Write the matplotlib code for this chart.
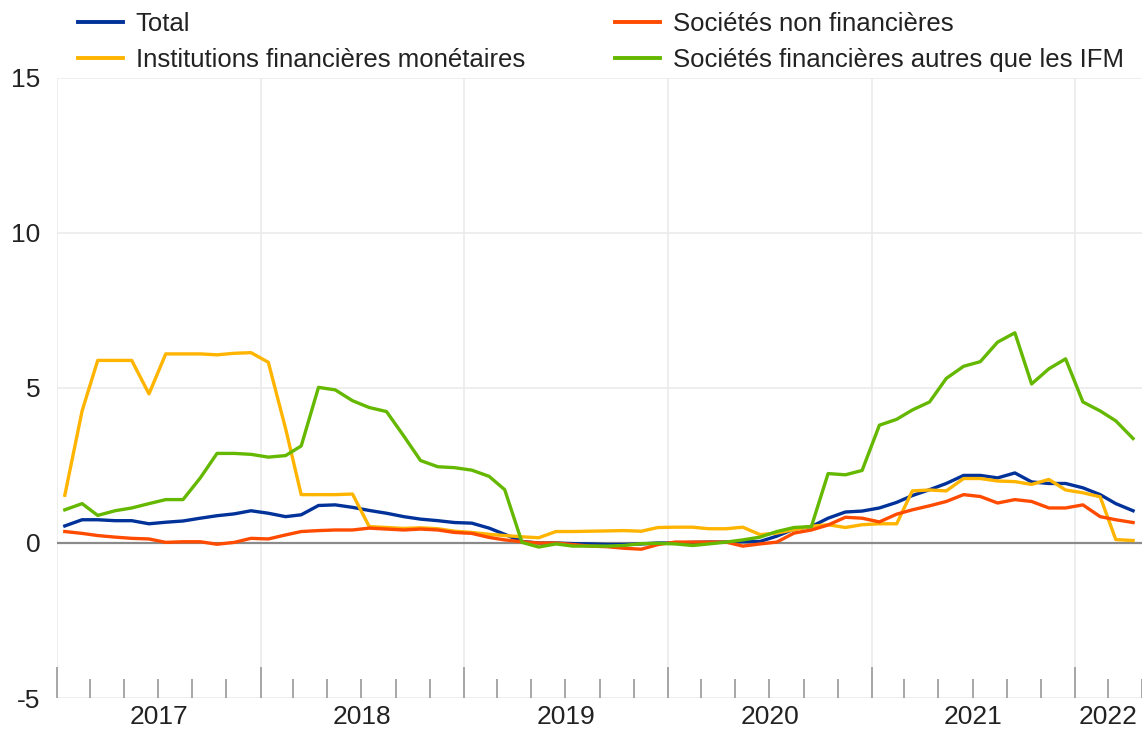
import matplotlib
matplotlib.use("Agg")
import matplotlib.pyplot as plt
import matplotlib.dates as mdates
import numpy as np
import pandas as pd

plt.rcParams['font.family'] = ['Liberation Sans', 'DejaVu Sans']

months = pd.date_range('2017-01-01', periods=64, freq='MS') + pd.Timedelta(days=14)

total = [0.55, 0.75, 0.75, 0.72, 0.72, 0.62, 0.67, 0.71, 0.80, 0.88, 0.94, 1.04,
         0.96, 0.85, 0.91, 1.21, 1.23, 1.15, 1.05, 0.96, 0.85, 0.77, 0.72, 0.66,
         0.64, 0.48, 0.28, 0.05, 0.00, 0.00, -0.02, -0.03, -0.05, -0.05, -0.03, 0.00,
         0.00, 0.02, 0.03, 0.03, 0.05, 0.05, 0.22, 0.45, 0.53, 0.80, 1.00, 1.03,
         1.13, 1.31, 1.53, 1.72, 1.92, 2.18, 2.18, 2.10, 2.26, 1.97, 1.92, 1.92,
         1.78, 1.56, 1.27, 1.04]

snf = [0.37, 0.31, 0.24, 0.19, 0.15, 0.13, 0.02, 0.04, 0.04, -0.04, 0.02, 0.15,
       0.13, 0.26, 0.37, 0.40, 0.42, 0.42, 0.48, 0.45, 0.42, 0.45, 0.42, 0.34,
       0.31, 0.18, 0.10, 0.04, 0.00, 0.00, -0.05, -0.10, -0.12, -0.17, -0.20, -0.05,
       0.03, 0.03, 0.03, 0.03, -0.10, -0.03, 0.03, 0.32, 0.42, 0.58, 0.83, 0.80,
       0.68, 0.93, 1.07, 1.20, 1.34, 1.56, 1.50, 1.29, 1.40, 1.34, 1.13, 1.13,
       1.23, 0.85, 0.75, 0.66]

ifm = [1.54, 4.26, 5.89, 5.89, 5.89, 4.81, 6.10, 6.10, 6.10, 6.07, 6.12, 6.14,
       5.83, 3.69, 1.56, 1.56, 1.56, 1.58, 0.53, 0.50, 0.47, 0.49, 0.46, 0.38,
       0.34, 0.28, 0.24, 0.20, 0.17, 0.37, 0.37, 0.38, 0.39, 0.40, 0.38, 0.50,
       0.51, 0.51, 0.46, 0.46, 0.51, 0.27, 0.32, 0.43, 0.54, 0.59, 0.50, 0.59,
       0.62, 0.62, 1.68, 1.71, 1.68, 2.08, 2.08, 2.00, 1.98, 1.89, 2.05, 1.71,
       1.62, 1.49, 0.11, 0.08]

sfaifm = [1.07, 1.27, 0.89, 1.04, 1.13, 1.27, 1.40, 1.40, 2.10, 2.89, 2.89, 2.86,
          2.77, 2.82, 3.13, 5.02, 4.94, 4.59, 4.37, 4.24, 3.45, 2.66, 2.46, 2.43,
          2.35, 2.15, 1.72, 0.02, -0.13, -0.03, -0.10, -0.10, -0.10, -0.08, -0.02, -0.01,
          -0.03, -0.08, -0.03, 0.03, 0.10, 0.19, 0.37, 0.50, 0.53, 2.24, 2.20, 2.34,
          3.80, 3.99, 4.29, 4.55, 5.31, 5.70, 5.85, 6.48, 6.78, 5.13, 5.62, 5.94,
          4.55, 4.26, 3.94, 3.37]

labels = ["Total", "Institutions financières monétaires",
          "Sociétés non financières", "Sociétés financières autres que les IFM"]
colors = ["#003299", "#FFB400", "#FF4B00", "#65B800"]
series = [total, ifm, snf, sfaifm]

fig = plt.figure(figsize=(11.42, 7.31), dpi=100)
ax = fig.add_axes([57/1142, 1 - 698/731, 1 - 57/1142, (698 - 78)/731])

ax.set_ylim(-5, 15)
ax.set_xlim(pd.Timestamp('2017-01-01'), pd.Timestamp('2022-05-01'))

# grid
for y in [-5, 5, 10, 15]:
    ax.axhline(y, color="#ebebeb", lw=1.2, zorder=0)
for yr in range(2017, 2023):
    ax.axvline(pd.Timestamp(f'{yr}-01-01'), color="#ebebeb", lw=1.2, zorder=0)
ax.axhline(0, color="#8a8a8a", lw=1.6, zorder=1)

handles = []
for s, c, lab in zip(series, colors, labels):
    h, = ax.plot(months, s, color=c, lw=2.4, label=lab, zorder=3)
    handles.append(h)

for s in ax.spines.values():
    s.set_visible(False)

ax.set_yticks([-5, 0, 5, 10, 15])
ax.set_yticklabels(["-5", "0", "5", "10", "15"])
ax.tick_params(axis='y', length=0, labelsize=19, pad=12, labelcolor="#222222")

ax.xaxis.set_major_locator(mdates.YearLocator())
ax.xaxis.set_minor_locator(mdates.MonthLocator(bymonth=[3, 5, 7, 9, 11]))
ax.xaxis.set_major_formatter(plt.NullFormatter())
ax.tick_params(axis='x', which='major', direction='in', length=22, width=1.3, color="#a0a0a0")
ax.tick_params(axis='x', which='minor', direction='in', length=14, width=1.3, color="#a0a0a0")

# year labels centred on visible part of each year
xmin, xmax = ax.get_xlim()
for yr in range(2017, 2023):
    a = max(mdates.date2num(pd.Timestamp(f'{yr}-01-01')), xmin)
    b = min(mdates.date2num(pd.Timestamp(f'{yr+1}-01-01')), xmax)
    ax.text((a + b) / 2, -0.012, str(yr), transform=ax.get_xaxis_transform(),
            ha='center', va='top', fontsize=19, color="#222222")

leg = fig.legend(handles=handles, labels=labels, ncol=2, loc='upper left',
                 bbox_to_anchor=(78/1142, 1 - 12/731), frameon=False,
                 fontsize=18.5, handlelength=1.75, handletextpad=0.5,
                 columnspacing=3.5, labelspacing=0.45, borderpad=0, borderaxespad=0)
for t in leg.get_texts():
    t.set_color("#222222")
for l in leg.get_lines():
    l.set_linewidth(2.8)

fig.savefig("out.png", dpi=100)
